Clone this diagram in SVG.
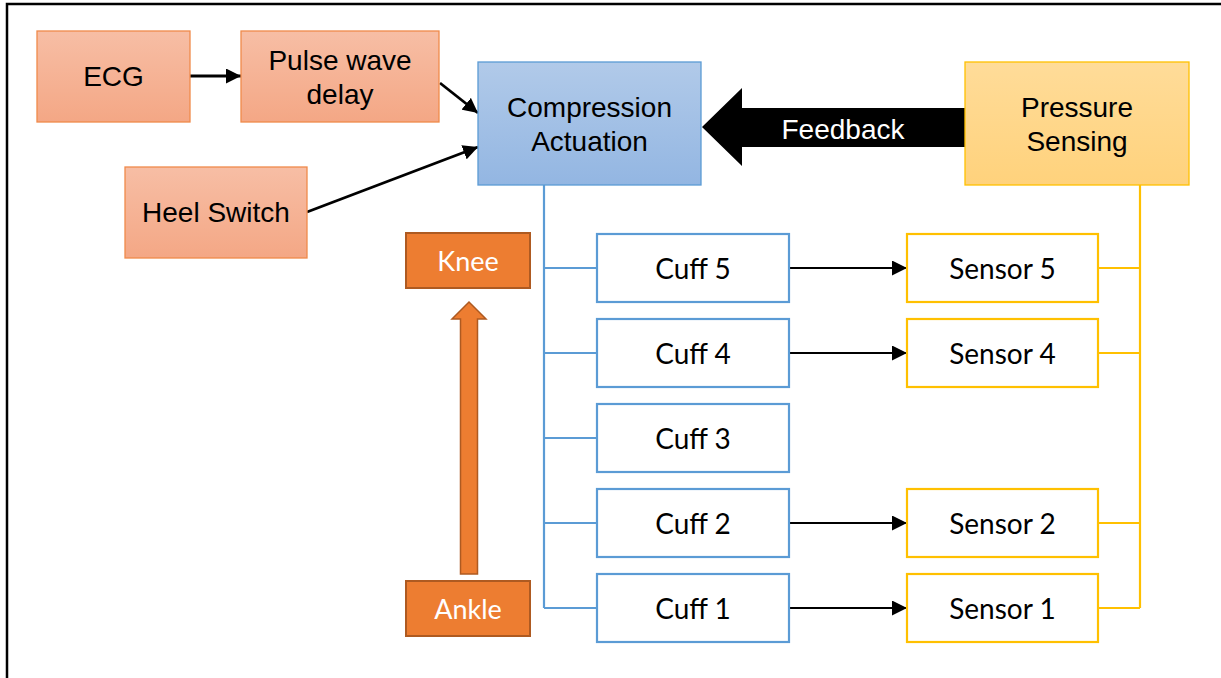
<svg xmlns="http://www.w3.org/2000/svg" width="1221" height="678" viewBox="0 0 1221 678">
<defs>
<linearGradient id="gOrange" x1="0" y1="0" x2="0" y2="1"><stop offset="0" stop-color="#F7BEA5"/><stop offset="1" stop-color="#F4A785"/></linearGradient>
<linearGradient id="gBlue" x1="0" y1="0" x2="0" y2="1"><stop offset="0" stop-color="#B1CAE9"/><stop offset="1" stop-color="#93B6E2"/></linearGradient>
<linearGradient id="gYellow" x1="0" y1="0" x2="0" y2="1"><stop offset="0" stop-color="#FFDC99"/><stop offset="1" stop-color="#FFD27C"/></linearGradient>
<marker id="ahL" viewBox="0 0 10 10" refX="10" refY="5" markerWidth="15" markerHeight="15" markerUnits="userSpaceOnUse" orient="auto"><path d="M0,0 L10,5 L0,10 z" fill="#000"/></marker>
</defs>
<style>
.src{fill:url(#gOrange);stroke:#F08A4B;stroke-width:1.3}
.comp{fill:url(#gBlue);stroke:#5B9BD5;stroke-width:1.3}
.press{fill:url(#gYellow);stroke:#FFC000;stroke-width:1.3}
.cuff{fill:#fff;stroke:#5B9BD5;stroke-width:2.2}
.sens{fill:#fff;stroke:#FFC000;stroke-width:2.2}
.joint{fill:#ED7D31;stroke:#AE5A21;stroke-width:2}
.ta{font-family:"Liberation Sans",Arial,sans-serif;font-size:28px;fill:#000;text-anchor:middle;dominant-baseline:central}
.tc{font-family:Lato,"Open Sans",sans-serif;font-size:28px;fill:#000;text-anchor:middle;dominant-baseline:central}
.tw{font-family:Lato,"Open Sans",sans-serif;font-size:27px;fill:#fff;text-anchor:middle;dominant-baseline:central}
.blk{stroke:#000;stroke-width:2.2;fill:none}
.blk3{stroke:#000;stroke-width:2.8;fill:none}
.bl{stroke:#5B9BD5;stroke-width:2.2;fill:none}
.yl{stroke:#FFC000;stroke-width:2.2;fill:none}
</style>
<path d="M7,690 V4 H1230" fill="none" stroke="#000" stroke-width="2.5"/>

<g id="connectors">
<line class="blk3" x1="190" y1="76" x2="241" y2="76" marker-end="url(#ahL)"/>
<line class="blk3" x1="440" y1="83" x2="478" y2="113" marker-end="url(#ahL)"/>
<line class="blk3" x1="307" y1="212" x2="478" y2="147" marker-end="url(#ahL)"/>
<path d="M544,185 V608 M544,268 H597 M544,353 H597 M544,438 H597 M544,523 H597 M544,608 H597" class="bl"/>
<path d="M1140,185 V608 M1098,268 H1140 M1098,353 H1140 M1098,523 H1140 M1098,608 H1140" class="yl"/>
<line class="blk" x1="789" y1="268" x2="907" y2="268" marker-end="url(#ahL)"/>
<line class="blk" x1="789" y1="353" x2="907" y2="353" marker-end="url(#ahL)"/>
<line class="blk" x1="789" y1="523" x2="907" y2="523" marker-end="url(#ahL)"/>
<line class="blk" x1="789" y1="608" x2="907" y2="608" marker-end="url(#ahL)"/>
<g id="feedback">
<path d="M965,108 H742 V88 L702,127 L742,166 V147 H965 Z" fill="#000"/>
<text x="843" y="129" class="ta" style="fill:#fff">Feedback</text>
</g>
<g id="leg-arrow">
<path d="M460.5,574 V319 H452 L469,302 L486,319 H477.5 V574 Z" fill="#ED7D31" stroke="#AE5A21" stroke-width="1.5"/>
</g>
</g>

<g id="ecg"><rect class="src" x="37" y="31" width="153" height="91"/><text class="ta" x="113.5" y="76.5">ECG</text></g>
<g id="pwd"><rect class="src" x="241" y="31" width="198" height="91"/><text class="ta" x="340" y="60">Pulse wave</text><text class="ta" x="340" y="94">delay</text></g>
<g id="heel"><rect class="src" x="125" y="167" width="182" height="91"/><text class="ta" x="216" y="212.5">Heel Switch</text></g>
<g id="compression"><rect class="comp" x="478" y="62" width="223" height="123"/><text class="ta" x="589.5" y="107">Compression</text><text class="ta" x="589.5" y="141">Actuation</text></g>
<g id="pressure"><rect class="press" x="965" y="62" width="224" height="123"/><text class="ta" x="1077" y="107">Pressure</text><text class="ta" x="1077" y="141">Sensing</text></g>

<g id="knee"><rect class="joint" x="406" y="233" width="124" height="55"/><text class="tw" x="468" y="260.5">Knee</text></g>
<g id="ankle"><rect class="joint" x="406" y="581" width="124" height="55"/><text class="tw" x="468" y="608.5">Ankle</text></g>

<g id="cuff5"><rect class="cuff" x="597" y="234" width="192" height="68"/><text class="tc" x="693" y="268">Cuff 5</text></g>
<g id="cuff4"><rect class="cuff" x="597" y="319" width="192" height="68"/><text class="tc" x="693" y="353">Cuff 4</text></g>
<g id="cuff3"><rect class="cuff" x="597" y="404" width="192" height="68"/><text class="tc" x="693" y="438">Cuff 3</text></g>
<g id="cuff2"><rect class="cuff" x="597" y="489" width="192" height="68"/><text class="tc" x="693" y="523">Cuff 2</text></g>
<g id="cuff1"><rect class="cuff" x="597" y="574" width="192" height="68"/><text class="tc" x="693" y="608">Cuff 1</text></g>

<g id="sensor5"><rect class="sens" x="907" y="234" width="191" height="68"/><text class="tc" x="1002.5" y="268">Sensor 5</text></g>
<g id="sensor4"><rect class="sens" x="907" y="319" width="191" height="68"/><text class="tc" x="1002.5" y="353">Sensor 4</text></g>
<g id="sensor2"><rect class="sens" x="907" y="489" width="191" height="68"/><text class="tc" x="1002.5" y="523">Sensor 2</text></g>
<g id="sensor1"><rect class="sens" x="907" y="574" width="191" height="68"/><text class="tc" x="1002.5" y="608">Sensor 1</text></g>
</svg>
